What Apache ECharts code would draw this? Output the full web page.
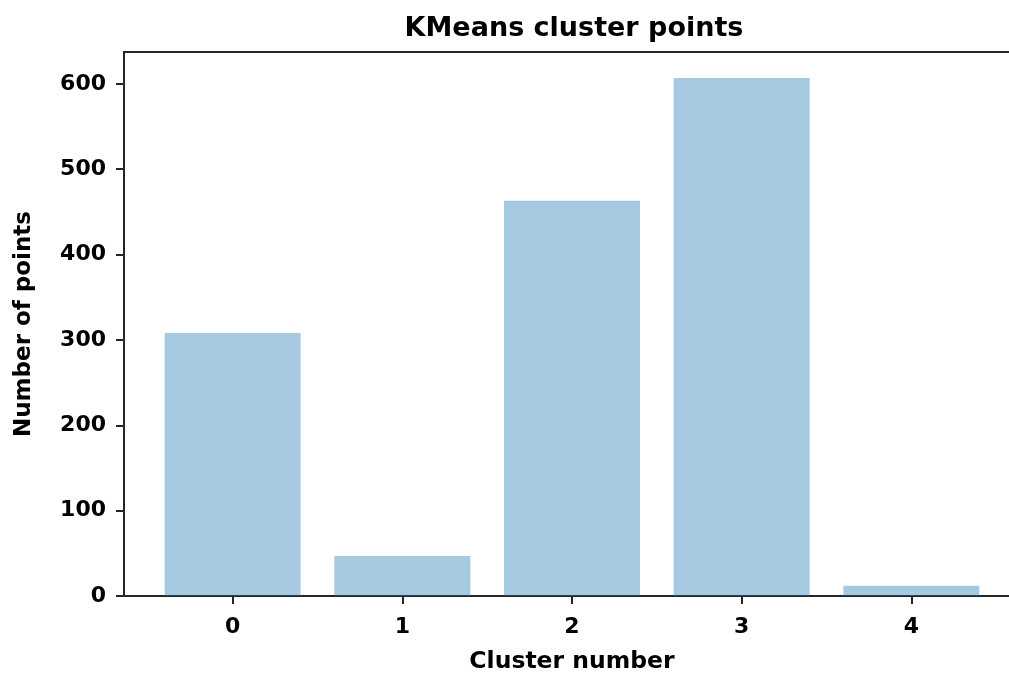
<!DOCTYPE html>
<html>
<head>
<meta charset="utf-8">
<script src="https://cdn.jsdelivr.net/npm/echarts@6/dist/echarts.min.js"></script>
<style>
html,body{margin:0;padding:0;background:#fff;}
#chart{width:1009px;height:673px;}
</style>
</head>
<body>
<div id="chart"></div>
<script>
var categories = [0, 1, 2, 3, 4];
var pointCounts = [308, 47, 463, 607, 12];
var yTicks = [0, 100, 200, 300, 400, 500, 600];

var chart = echarts.init(document.getElementById('chart'), null, {renderer: 'canvas'});
var FONT = 'DejaVu Sans';
var LINE = '#262626';
var data = categories.map(function (c, i) { return [c, pointCounts[i]]; });
var yMax = Math.max.apply(null, pointCounts) * 1.05;

chart.setOption({
  animation: false,
  backgroundColor: '#fff',
  title: {
    text: 'KMeans cluster points',
    left: 569, top: 10, textAlign: 'center',
    textStyle: {fontFamily: FONT, fontWeight: 'bold', fontSize: 27, color: '#000'}
  },
  grid: {
    left: 124, top: 52, width: 896, height: 544,
    outerBoundsMode: 'none', containLabel: false,
    show: true, borderColor: LINE, borderWidth: 2, backgroundColor: 'transparent'
  },
  xAxis: {
    type: 'value', min: -0.64, max: 4.64,
    splitLine: {show: false},
    axisLine: {show: true, onZero: false, lineStyle: {color: LINE, width: 2}},
    axisTick: {show: true, length: 8, lineStyle: {color: LINE, width: 2}, customValues: categories},
    axisLabel: {show: true, customValues: categories, margin: 20,
      fontFamily: FONT, fontWeight: 'bold', fontSize: 22, color: '#000'},
    name: 'Cluster number', nameLocation: 'middle', nameGap: 54,
    nameTextStyle: {fontFamily: FONT, fontWeight: 'bold', fontSize: 23.5, color: '#000'}
  },
  yAxis: {
    type: 'value', min: 0, max: yMax,
    splitLine: {show: false},
    axisLine: {show: true, onZero: false, lineStyle: {color: LINE, width: 2}},
    axisTick: {show: true, length: 8, lineStyle: {color: LINE, width: 2}, customValues: yTicks},
    axisLabel: {show: true, customValues: yTicks, margin: 18,
      fontFamily: FONT, fontWeight: 'bold', fontSize: 22, color: '#000'},
    name: 'Number of points', nameLocation: 'middle', nameGap: 88,
    nameTextStyle: {fontFamily: FONT, fontWeight: 'bold', fontSize: 23, color: '#000'}
  },
  series: [{
    type: 'bar',
    data: data,
    barWidth: 136,
    itemStyle: {color: 'rgba(31,119,180,0.4)'}
  }]
});
</script>
</body>
</html>
